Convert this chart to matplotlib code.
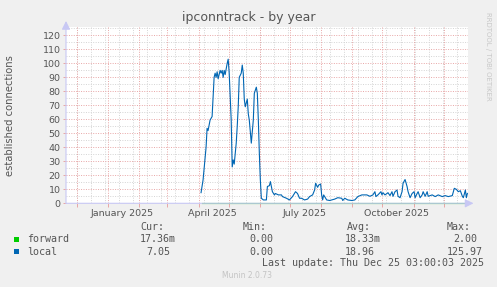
"""
    Munin style yearly graph of ipconntrack connections
"""

import datetime as dt
import matplotlib.pyplot as plt
import matplotlib.dates as mdates
from matplotlib.patches import Rectangle

W, H = 497, 287

# values
local_dates = [
    "2025-04-03", "2025-04-05", "2025-04-08", "2025-04-09", "2025-04-10",
    "2025-04-12", "2025-04-14", "2025-04-16", "2025-04-17", "2025-04-18",
    "2025-04-19", "2025-04-20", "2025-04-22", "2025-04-23", "2025-04-24",
    "2025-04-25", "2025-04-26", "2025-04-27", "2025-04-29", "2025-04-30",
    "2025-05-01", "2025-05-03", "2025-05-04", "2025-05-05", "2025-05-06",
    "2025-05-08", "2025-05-09", "2025-05-10", "2025-05-11", "2025-05-13",
    "2025-05-14", "2025-05-15", "2025-05-16", "2025-05-17", "2025-05-19",
    "2025-05-20", "2025-05-21", "2025-05-23", "2025-05-25", "2025-05-26",
    "2025-05-28", "2025-05-29", "2025-05-30", "2025-05-31", "2025-06-01",
    "2025-06-02", "2025-06-04", "2025-06-07", "2025-06-08", "2025-06-10",
    "2025-06-11", "2025-06-13", "2025-06-15", "2025-06-16", "2025-06-19",
    "2025-06-22", "2025-06-23", "2025-06-27", "2025-06-30", "2025-07-03",
    "2025-07-06", "2025-07-08", "2025-07-10", "2025-07-12", "2025-07-15",
    "2025-07-18", "2025-07-20", "2025-07-23", "2025-07-25", "2025-07-26",
    "2025-07-28", "2025-07-29", "2025-07-31", "2025-08-01", "2025-08-02",
    "2025-08-03", "2025-08-06", "2025-08-09", "2025-08-14", "2025-08-17",
    "2025-08-21", "2025-08-22", "2025-08-24", "2025-08-27", "2025-08-31",
    "2025-09-03", "2025-09-06", "2025-09-10", "2025-09-15", "2025-09-18",
    "2025-09-21", "2025-09-23", "2025-09-24", "2025-09-26", "2025-09-29",
    "2025-09-30", "2025-10-01", "2025-10-03", "2025-10-05", "2025-10-06",
    "2025-10-08", "2025-10-10", "2025-10-11", "2025-10-13", "2025-10-15",
    "2025-10-16", "2025-10-18", "2025-10-20", "2025-10-21", "2025-10-23",
    "2025-10-25", "2025-10-26", "2025-10-28", "2025-10-30", "2025-11-01",
    "2025-11-02", "2025-11-04", "2025-11-05", "2025-11-07", "2025-11-09",
    "2025-11-10", "2025-11-12", "2025-11-14", "2025-11-15", "2025-11-19",
    "2025-11-22", "2025-11-25", "2025-11-29", "2025-12-02", "2025-12-05",
    "2025-12-09", "2025-12-11", "2025-12-13", "2025-12-15", "2025-12-17",
    "2025-12-19", "2025-12-20", "2025-12-22", "2025-12-23", "2025-12-24",
]
local_values = [
    7.6, 16.6, 40, 53.6, 52,
    59.5, 62, 90, 93, 90,
    94, 89, 95, 93, 95,
    90, 95, 92, 100, 103,
    93, 59.5, 26, 31, 28,
    43, 55, 69, 90, 93,
    98.8, 93, 74.5, 69, 74.5,
    64, 59.5, 43, 59.5, 78.6,
    83, 78.6, 59.5, 35.7, 16.6,
    3.6, 2.4, 2.4, 12, 12.6,
    15.5, 8.3, 6, 7, 6,
    6, 4.8, 3.6, 2.4, 4.8,
    8.3, 7, 3.6, 3.6, 2.4,
    3, 4.8, 6, 9.5, 14.3,
    11.4, 13, 13.8, 6, 2.4,
    6, 2.4, 2, 3, 4,
    3.6, 2, 3.6, 2.4, 2,
    2.4, 4.8, 6, 6, 5,
    6, 8.3, 4.8, 6, 8.3,
    6, 7.6, 6, 7, 7.6,
    5.5, 8.3, 5, 8.3, 9.5,
    5, 4, 8.3, 14.3, 17,
    12, 8.3, 4, 7, 8.3,
    4, 7, 8.3, 4, 6,
    8.3, 5, 8.3, 5, 6,
    4.8, 6, 4.8, 5.5, 4.8,
    5.5, 10.7, 10, 8.3, 9,
    5, 4, 9.5, 4, 7.05,
]
forward_dates = ["2025-04-04", "2025-12-24"]
forward_values = [0.0, 0.0]

stat_names = ["Cur:", "Min:", "Avg:", "Max:"]
forward_stats = ["17.36m", "0.00", "18.33m", "2.00"]
local_stats = ["7.05", "0.00", "18.96", "125.97"]

start = dt.datetime(2024, 11, 20, 3, 0)
end = dt.datetime(2025, 12, 25, 3, 0)

TXT = "#555555"
RED = "#E8A6A6"
GREY = "#D4D4D4"
AXIS = "#C8C8F4"


def fx(px):
    return px / W


def fy(py):
    return 1 - py / H


def to_dt(lst):
    return [dt.datetime.strptime(s, "%Y-%m-%d") + dt.timedelta(hours=12) for s in lst]


if __name__ == '__main__':
    fig = plt.figure(figsize=(W / 100, H / 100), dpi=100, facecolor="#F0F0F0")
    ax = fig.add_axes([fx(66), fy(203.3), fx(468 - 66), (203.3 - 27) / H])
    ax.set_facecolor("white")
    for s in ax.spines.values():
        s.set_visible(False)

    ax.set_xlim(start, end)
    ax.set_ylim(0, 126)

    dots = (0, (1, 1.5))
    # grey grid: every 5 and every 14 days
    for v in range(5, 126, 10):
        ax.axhline(v, color=GREY, lw=0.7, ls=dots, zorder=0)
    d = dt.datetime(2024, 11, 17)
    while d < end:
        if d > start:
            ax.axvline(d, color=GREY, lw=0.7, ls=dots, zorder=0)
        d += dt.timedelta(days=14)
    # red grid: every 10 and every month
    for v in range(10, 121, 10):
        ax.axhline(v, color=RED, lw=0.7, ls=dots, zorder=0.5)
    months = [dt.datetime(2024, 12, 1)] + [dt.datetime(2025, m, 1) for m in range(1, 13)]
    for m in months:
        ax.axvline(m, color=RED, lw=0.7, ls=dots, zorder=0.5)

    # ticks
    ax.set_yticks(range(0, 121, 10))
    ax.tick_params(axis="y", length=2, width=0.7, color=RED, labelsize=6.8,
                   labelcolor=TXT, pad=2)
    ax.set_xticks(months, minor=True)
    ax.tick_params(axis="x", which="minor", length=3, width=0.7, color=RED)
    label_days = [dt.datetime(2025, m, 15) for m in (1, 4, 7, 10)]
    ax.set_xticks(label_days)
    ax.xaxis.set_major_formatter(mdates.DateFormatter("%B %Y"))
    ax.tick_params(axis="x", which="major", length=0, labelsize=6.8,
                   labelcolor=TXT, pad=4)

    # series
    ax.plot(to_dt(forward_dates), forward_values, color="#00CC00", lw=0.8,
            zorder=3, clip_on=False)
    ax.plot(to_dt(local_dates), local_values, color="#0066B3", lw=0.8, zorder=4)

    # axis lines with arrows
    ax.annotate("", xy=(fx(473.5), fy(203.3)), xytext=(fx(66), fy(203.3)),
                xycoords="figure fraction",
                arrowprops=dict(arrowstyle="-|>,head_length=0.5,head_width=0.25",
                                color=AXIS, lw=0.8, shrinkA=0, shrinkB=0))
    ax.annotate("", xy=(fx(66), fy(21)), xytext=(fx(66), fy(203.3)),
                xycoords="figure fraction",
                arrowprops=dict(arrowstyle="-|>,head_length=0.5,head_width=0.25",
                                color=AXIS, lw=0.8, shrinkA=0, shrinkB=0))

    fig.text(fx(248.5), fy(18), "ipconntrack - by year", ha="center", va="center",
             fontsize=9, color=TXT)
    fig.text(fx(10), fy(115.5), "established connections", rotation=90,
             ha="center", va="center", fontsize=7.2, color=TXT)
    fig.text(fx(488), fy(56), "RRDTOOL / TOBI OETIKER", rotation=270,
             ha="center", va="center", fontsize=5, color="#C8C8C8")

    # legend
    mono = dict(family="DejaVu Sans Mono", fontsize=7.2, color=TXT, va="center")
    for name, x in zip(stat_names, [140, 242.7, 346.7, 446.7]):
        fig.text(fx(x), fy(227.3), name, **mono)
    rows = [("forward", "#00CC00", forward_stats, 239.3, [140, 249.3, 345, 453.3]),
            ("local", "#0066B3", local_stats, 251.7, [146.7, 249.3, 345, 446.7])]
    for name, col, stats, y, xs in rows:
        fig.patches.append(Rectangle((fx(14), fy(y + 2.6)), fx(5.3), 5.3 / H,
                                     transform=fig.transFigure, facecolor=col,
                                     edgecolor="none"))
        fig.text(fx(26.7), fy(y), name, **mono)
        for s, x in zip(stats, xs):
            fig.text(fx(x), fy(y), s, **mono)
    fig.text(fx(261.7), fy(263.3), "Last update: Thu Dec 25 03:00:03 2025", **mono)
    fig.text(fx(247.5), fy(276), "Munin 2.0.73", ha="center", va="center",
             fontsize=5.5, color="#C4C4C4")

    plt.savefig("out.png", dpi=100, facecolor=fig.get_facecolor())
